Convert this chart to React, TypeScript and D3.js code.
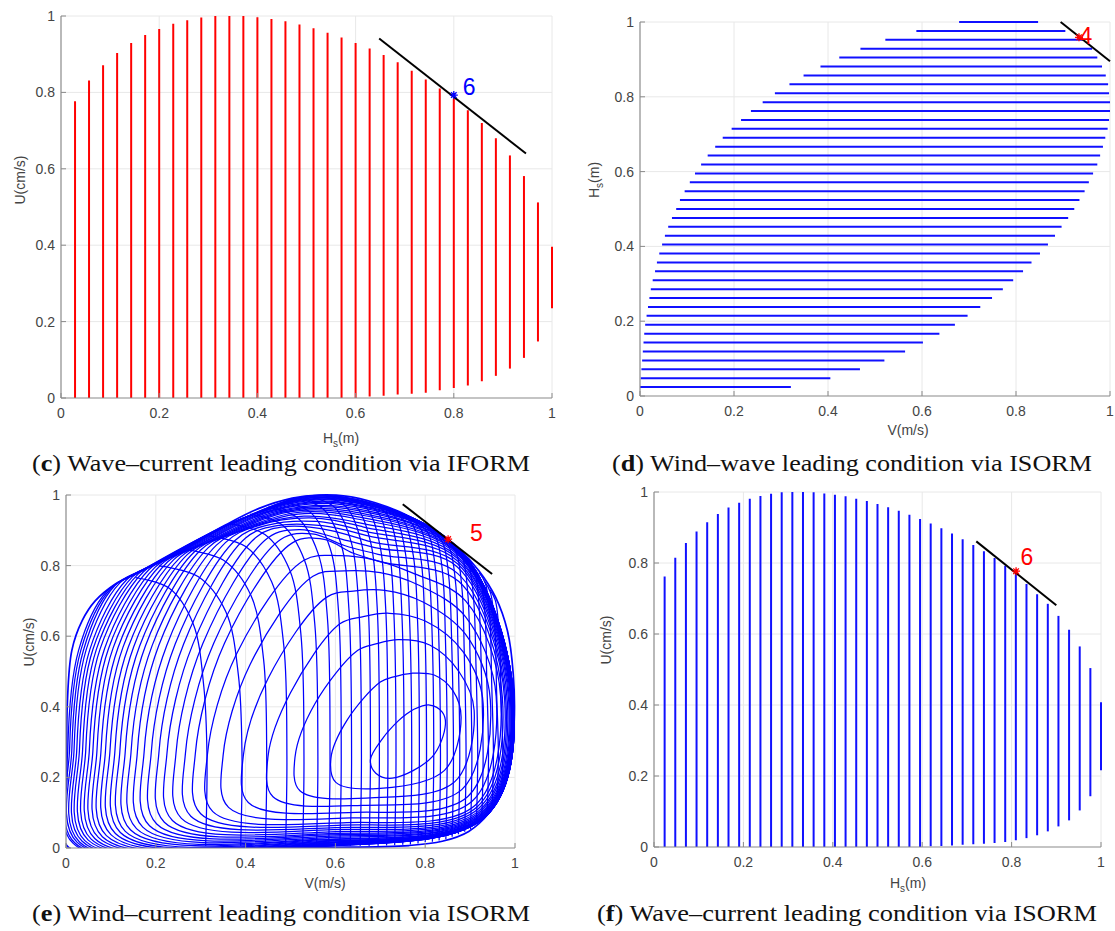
import React from "react";
import * as d3 from "d3";

type Box = { l: number; r: number; t: number; b: number };
type Pt = [number, number];

const W = 1115;
const H = 931;

const tickValues = [0, 0.2, 0.4, 0.6, 0.8, 1];
const tickLabels = ["0", "0.2", "0.4", "0.6", "0.8", "1"];

// ---------- (c) wave-current, IFORM: vertical red segments ----------
const cHs = [0.0286, 0.0571, 0.0857, 0.1143, 0.1429, 0.1714, 0.2, 0.2286, 0.2571, 0.2857, 0.3143, 0.3429, 0.3714, 0.4, 0.4286, 0.4571, 0.4857, 0.5143, 0.5429, 0.5714, 0.6, 0.6286, 0.6571, 0.6857, 0.7143, 0.7429, 0.7714, 0.8, 0.8286, 0.8571, 0.8857, 0.9143, 0.9429, 0.9714, 1.0];
const cUTop = [0.777, 0.831, 0.871, 0.903, 0.929, 0.95, 0.966, 0.98, 0.989, 0.996, 1.0, 1.0, 1.0, 0.997, 0.992, 0.986, 0.978, 0.968, 0.956, 0.944, 0.929, 0.915, 0.898, 0.879, 0.857, 0.834, 0.81, 0.784, 0.753, 0.72, 0.68, 0.635, 0.581, 0.512, 0.396];
const cUBottom = [0, 0, 0, 0, 0, 0, 0, 0, 0, 0, 0, 0, 0, 0, 0, 0, 0, 0, 0, 0, 0, 0.004, 0.006, 0.009, 0.011, 0.014, 0.02, 0.026, 0.033, 0.044, 0.058, 0.077, 0.105, 0.148, 0.235];
const cTangent: Pt[] = [[0.648, 0.941], [0.947, 0.64]];
const cPoint: Pt = [0.8, 0.793];
const cPointLabel = "6";

// ---------- (d) wind-wave, ISORM: horizontal blue segments ----------
const dHs = [0.0238, 0.0476, 0.0714, 0.0952, 0.119, 0.1429, 0.1667, 0.1905, 0.2143, 0.2381, 0.2619, 0.2857, 0.3095, 0.3333, 0.3571, 0.381, 0.4048, 0.4286, 0.4524, 0.4762, 0.5, 0.5238, 0.5476, 0.5714, 0.5952, 0.619, 0.6429, 0.6667, 0.6905, 0.7143, 0.7381, 0.7619, 0.7857, 0.8095, 0.8333, 0.8571, 0.881, 0.9048, 0.9286, 0.9524, 0.9762, 1.0];
const dVStart = [0.0, 0.0015, 0.003, 0.0045, 0.006, 0.0075, 0.009, 0.011, 0.014, 0.017, 0.02, 0.023, 0.027, 0.032, 0.036, 0.041, 0.047, 0.053, 0.06, 0.068, 0.077, 0.085, 0.095, 0.106, 0.117, 0.13, 0.144, 0.16, 0.176, 0.195, 0.215, 0.236, 0.261, 0.287, 0.318, 0.348, 0.384, 0.424, 0.469, 0.522, 0.588, 0.679];
const dVEnd = [0.321, 0.405, 0.468, 0.52, 0.564, 0.602, 0.637, 0.67, 0.697, 0.724, 0.749, 0.772, 0.794, 0.815, 0.833, 0.851, 0.868, 0.883, 0.897, 0.911, 0.924, 0.935, 0.946, 0.955, 0.964, 0.973, 0.979, 0.985, 0.99, 0.995, 0.998, 1.0, 1.0, 0.998, 0.996, 0.991, 0.983, 0.973, 0.962, 0.943, 0.905, 0.847];
const dTangent: Pt[] = [[0.895, 1.0], [1.0, 0.895]];
const dPoint: Pt = [0.934, 0.959];
const dPointLabel = "4";

// ---------- (e) wind-current, ISORM: contour mesh ----------
const eHull: Pt[] = [[0.004, 0.004], [0.002, 0.2], [0.003, 0.41], [0.013, 0.56], [0.036, 0.644], [0.065, 0.7], [0.11, 0.748], [0.155, 0.777], [0.207, 0.812], [0.281, 0.863], [0.355, 0.915], [0.43, 0.962], [0.504, 0.991], [0.563, 1.0], [0.623, 0.997], [0.689, 0.978], [0.756, 0.945], [0.816, 0.903], [0.875, 0.847], [0.92, 0.785], [0.957, 0.71], [0.983, 0.616], [0.996, 0.494], [0.998, 0.353], [0.99, 0.259], [0.972, 0.165], [0.942, 0.099], [0.897, 0.047], [0.838, 0.019], [0.764, 0.007], [0.578, 0.002], [0.3, 0.001]];

// each loop: bottom-left, left, upper-left, dome contact, dome (x2), top, upper-right, right, lower-right, bottom
const eLoops: Pt[][] = [
  [[0.016, 0.013], [0.004, 0.28], [0.028, 0.56], [0.09, 0.726], [0.16, 0.78], [0.367, 0.918], [0.573, 0.999], [0.875, 0.847], [0.997, 0.42], [0.935, 0.09], [0.55, 0.003]],
  [[0.02, 0.014], [0.008, 0.28], [0.033, 0.56], [0.1, 0.735], [0.17, 0.785], [0.373, 0.923], [0.576, 0.999], [0.875, 0.847], [0.997, 0.42], [0.935, 0.09], [0.55, 0.003]],
  [[0.025, 0.016], [0.013, 0.28], [0.039, 0.561], [0.11, 0.745], [0.18, 0.792], [0.38, 0.926], [0.58, 0.998], [0.875, 0.847], [0.997, 0.42], [0.935, 0.09], [0.551, 0.004]],
  [[0.03, 0.017], [0.018, 0.28], [0.045, 0.562], [0.12, 0.751], [0.19, 0.798], [0.388, 0.931], [0.586, 0.996], [0.875, 0.847], [0.997, 0.42], [0.935, 0.09], [0.551, 0.004]],
  [[0.036, 0.019], [0.024, 0.279], [0.053, 0.562], [0.135, 0.76], [0.205, 0.807], [0.398, 0.936], [0.59, 0.994], [0.875, 0.847], [0.997, 0.42], [0.935, 0.09], [0.552, 0.005]],
  [[0.042, 0.021], [0.03, 0.279], [0.06, 0.563], [0.148, 0.768], [0.218, 0.815], [0.406, 0.94], [0.593, 0.992], [0.875, 0.847], [0.997, 0.42], [0.935, 0.09], [0.552, 0.006]],
  [[0.049, 0.023], [0.037, 0.279], [0.068, 0.564], [0.16, 0.775], [0.23, 0.822], [0.414, 0.944], [0.597, 0.99], [0.875, 0.846], [0.997, 0.42], [0.935, 0.09], [0.553, 0.006]],
  [[0.056, 0.025], [0.044, 0.278], [0.076, 0.564], [0.172, 0.782], [0.242, 0.829], [0.422, 0.948], [0.601, 0.987], [0.875, 0.846], [0.997, 0.42], [0.935, 0.09], [0.554, 0.007]],
  [[0.064, 0.027], [0.052, 0.278], [0.086, 0.565], [0.185, 0.789], [0.255, 0.836], [0.43, 0.949], [0.604, 0.985], [0.875, 0.846], [0.997, 0.42], [0.935, 0.091], [0.555, 0.008]],
  [[0.072, 0.03], [0.06, 0.278], [0.095, 0.566], [0.198, 0.795], [0.268, 0.843], [0.439, 0.95], [0.61, 0.98], [0.875, 0.845], [0.996, 0.42], [0.935, 0.091], [0.556, 0.009]],
  [[0.081, 0.032], [0.069, 0.277], [0.105, 0.567], [0.212, 0.803], [0.282, 0.85], [0.448, 0.952], [0.613, 0.977], [0.875, 0.844], [0.996, 0.42], [0.934, 0.091], [0.557, 0.011]],
  [[0.09, 0.035], [0.078, 0.277], [0.116, 0.568], [0.226, 0.81], [0.296, 0.858], [0.457, 0.953], [0.618, 0.972], [0.875, 0.844], [0.996, 0.419], [0.934, 0.091], [0.558, 0.012]],
  [[0.1, 0.038], [0.088, 0.277], [0.127, 0.569], [0.24, 0.817], [0.31, 0.864], [0.467, 0.953], [0.624, 0.966], [0.875, 0.842], [0.995, 0.419], [0.934, 0.092], [0.56, 0.014]],
  [[0.11, 0.041], [0.098, 0.276], [0.139, 0.57], [0.255, 0.824], [0.325, 0.871], [0.477, 0.953], [0.628, 0.961], [0.875, 0.841], [0.995, 0.419], [0.933, 0.092], [0.562, 0.016]],
  [[0.121, 0.044], [0.109, 0.276], [0.151, 0.571], [0.27, 0.831], [0.34, 0.878], [0.487, 0.953], [0.633, 0.954], [0.874, 0.839], [0.994, 0.419], [0.933, 0.093], [0.564, 0.018]],
  [[0.132, 0.047], [0.12, 0.275], [0.164, 0.572], [0.285, 0.838], [0.355, 0.885], [0.496, 0.952], [0.637, 0.948], [0.874, 0.838], [0.994, 0.419], [0.933, 0.093], [0.565, 0.02]],
  [[0.144, 0.051], [0.132, 0.274], [0.177, 0.573], [0.3, 0.844], [0.37, 0.891], [0.506, 0.949], [0.642, 0.94], [0.874, 0.835], [0.993, 0.418], [0.932, 0.094], [0.568, 0.023]],
  [[0.157, 0.055], [0.145, 0.274], [0.192, 0.574], [0.317, 0.851], [0.387, 0.898], [0.517, 0.946], [0.648, 0.932], [0.874, 0.833], [0.992, 0.418], [0.931, 0.095], [0.57, 0.025]],
  [[0.171, 0.059], [0.159, 0.273], [0.207, 0.575], [0.335, 0.858], [0.405, 0.905], [0.53, 0.94], [0.654, 0.921], [0.874, 0.829], [0.991, 0.417], [0.93, 0.097], [0.573, 0.029]],
  [[0.186, 0.063], [0.174, 0.272], [0.225, 0.576], [0.355, 0.865], [0.425, 0.912], [0.543, 0.935], [0.661, 0.91], [0.873, 0.824], [0.99, 0.417], [0.929, 0.098], [0.577, 0.033]],
  [[0.202, 0.068], [0.19, 0.272], [0.243, 0.577], [0.377, 0.872], [0.447, 0.914], [0.557, 0.925], [0.667, 0.897], [0.873, 0.819], [0.988, 0.416], [0.928, 0.1], [0.581, 0.037]],
  [[0.219, 0.073], [0.207, 0.271], [0.262, 0.578], [0.4, 0.878], [0.47, 0.913], [0.571, 0.913], [0.673, 0.884], [0.872, 0.813], [0.986, 0.415], [0.926, 0.102], [0.585, 0.041]],
  [[0.237, 0.078], [0.225, 0.27], [0.283, 0.579], [0.425, 0.882], [0.495, 0.911], [0.588, 0.9], [0.681, 0.867], [0.872, 0.805], [0.983, 0.414], [0.924, 0.105], [0.589, 0.046]],
  [[0.257, 0.084], [0.245, 0.269], [0.305, 0.58], [0.45, 0.879], [0.52, 0.902], [0.604, 0.878], [0.688, 0.851], [0.871, 0.797], [0.98, 0.412], [0.922, 0.108], [0.594, 0.052]],
  [[0.278, 0.09], [0.266, 0.268], [0.329, 0.58], [0.478, 0.874], [0.548, 0.89], [0.62, 0.857], [0.695, 0.832], [0.872, 0.778], [0.977, 0.42], [0.919, 0.112], [0.6, 0.058]],
  [[0.3, 0.097], [0.288, 0.267], [0.353, 0.58], [0.505, 0.865], [0.575, 0.874], [0.64, 0.835], [0.704, 0.81], [0.875, 0.755], [0.972, 0.425], [0.916, 0.117], [0.615, 0.065]],
  [[0.327, 0.103], [0.315, 0.265], [0.38, 0.55], [0.53, 0.815], [0.61, 0.828], [0.69, 0.815], [0.77, 0.78], [0.89, 0.7], [0.968, 0.43], [0.912, 0.122], [0.625, 0.072]],
  [[0.362, 0.115], [0.35, 0.263], [0.41, 0.52], [0.55, 0.77], [0.62, 0.785], [0.7, 0.78], [0.785, 0.745], [0.89, 0.655], [0.958, 0.43], [0.905, 0.133], [0.635, 0.085]],
  [[0.406, 0.129], [0.395, 0.262], [0.45, 0.48], [0.58, 0.71], [0.64, 0.728], [0.71, 0.73], [0.795, 0.697], [0.89, 0.605], [0.945, 0.42], [0.895, 0.146], [0.645, 0.101]],
  [[0.461, 0.145], [0.45, 0.26], [0.5, 0.44], [0.61, 0.635], [0.66, 0.655], [0.72, 0.665], [0.8, 0.643], [0.885, 0.555], [0.929, 0.41], [0.882, 0.166], [0.66, 0.121]],
  [[0.521, 0.162], [0.51, 0.257], [0.555, 0.41], [0.65, 0.56], [0.69, 0.578], [0.74, 0.59], [0.81, 0.575], [0.875, 0.5], [0.909, 0.39], [0.866, 0.188], [0.678, 0.142]],
  [[0.601, 0.186], [0.59, 0.254], [0.625, 0.36], [0.7, 0.47], [0.73, 0.485], [0.77, 0.495], [0.82, 0.49], [0.862, 0.445], [0.88, 0.37], [0.843, 0.22], [0.7, 0.169]],
  [[0.69, 0.212], [0.678, 0.25], [0.705, 0.31], [0.74, 0.36], [0.757, 0.378], [0.775, 0.393], [0.81, 0.405], [0.838, 0.385], [0.845, 0.35], [0.816, 0.259], [0.727, 0.198]],
];

const eMeridians: Pt[][] = [
  [[0.155, 0.766], [0.23, 0.736], [0.283, 0.636], [0.307, 0.456], [0.314, 0.26], [0.311, 0.006]],
  [[0.207, 0.799], [0.294, 0.769], [0.356, 0.669], [0.384, 0.489], [0.392, 0.26], [0.389, 0.006]],
  [[0.266, 0.845], [0.351, 0.815], [0.412, 0.715], [0.44, 0.535], [0.447, 0.26], [0.444, 0.006]],
  [[0.318, 0.884], [0.4, 0.854], [0.458, 0.754], [0.485, 0.574], [0.492, 0.26], [0.489, 0.006]],
  [[0.365, 0.918], [0.443, 0.888], [0.498, 0.788], [0.523, 0.608], [0.53, 0.26], [0.527, 0.006]],
  [[0.41, 0.946], [0.481, 0.916], [0.531, 0.816], [0.554, 0.636], [0.561, 0.26], [0.558, 0.006]],
  [[0.45, 0.966], [0.515, 0.936], [0.561, 0.836], [0.582, 0.656], [0.588, 0.26], [0.585, 0.006]],
  [[0.485, 0.98], [0.545, 0.95], [0.588, 0.85], [0.607, 0.67], [0.613, 0.26], [0.61, 0.006]],
  [[0.52, 0.989], [0.574, 0.959], [0.613, 0.859], [0.63, 0.679], [0.636, 0.26], [0.633, 0.006]],
  [[0.55, 0.993], [0.6, 0.963], [0.636, 0.863], [0.652, 0.683], [0.658, 0.26], [0.655, 0.006]],
  [[0.58, 0.994], [0.626, 0.964], [0.658, 0.864], [0.673, 0.684], [0.678, 0.26], [0.675, 0.006]],
  [[0.607, 0.993], [0.649, 0.963], [0.679, 0.863], [0.693, 0.683], [0.698, 0.26], [0.695, 0.006]],
  [[0.633, 0.989], [0.672, 0.959], [0.699, 0.859], [0.712, 0.679], [0.717, 0.26], [0.714, 0.007]],
  [[0.658, 0.982], [0.694, 0.952], [0.719, 0.852], [0.73, 0.672], [0.735, 0.26], [0.732, 0.008]],
  [[0.682, 0.975], [0.715, 0.945], [0.738, 0.845], [0.748, 0.665], [0.753, 0.26], [0.75, 0.009]],
  [[0.705, 0.965], [0.735, 0.935], [0.756, 0.835], [0.765, 0.655], [0.77, 0.26], [0.767, 0.01]],
  [[0.727, 0.954], [0.754, 0.924], [0.774, 0.824], [0.783, 0.644], [0.787, 0.26], [0.784, 0.013]],
  [[0.748, 0.944], [0.773, 0.914], [0.791, 0.814], [0.799, 0.634], [0.803, 0.26], [0.8, 0.016]],
  [[0.768, 0.932], [0.791, 0.902], [0.807, 0.802], [0.815, 0.622], [0.819, 0.26], [0.816, 0.018]],
  [[0.787, 0.918], [0.808, 0.888], [0.823, 0.788], [0.83, 0.608], [0.834, 0.26], [0.831, 0.021]],
  [[0.805, 0.906], [0.825, 0.876], [0.839, 0.776], [0.845, 0.596], [0.849, 0.26], [0.846, 0.025]],
  [[0.822, 0.892], [0.84, 0.862], [0.853, 0.762], [0.859, 0.582], [0.863, 0.26], [0.86, 0.032]],
  [[0.838, 0.877], [0.855, 0.847], [0.868, 0.747], [0.873, 0.567], [0.877, 0.26], [0.874, 0.039]],
  [[0.853, 0.863], [0.87, 0.833], [0.882, 0.733], [0.887, 0.553], [0.891, 0.26], [0.888, 0.046]],
  [[0.868, 0.849], [0.884, 0.819], [0.895, 0.719], [0.9, 0.539], [0.904, 0.26], [0.901, 0.053]],
  [[0.882, 0.832], [0.897, 0.802], [0.908, 0.702], [0.913, 0.522], [0.917, 0.26], [0.914, 0.07]],
  [[0.895, 0.815], [0.91, 0.785], [0.92, 0.685], [0.925, 0.505], [0.929, 0.26], [0.926, 0.084]],
  [[0.908, 0.795], [0.922, 0.765], [0.933, 0.665], [0.937, 0.485], [0.941, 0.26], [0.938, 0.098]],
  [[0.92, 0.78], [0.934, 0.75], [0.944, 0.65], [0.948, 0.47], [0.952, 0.26], [0.949, 0.117]],
  [[0.932, 0.755], [0.945, 0.725], [0.955, 0.625], [0.959, 0.445], [0.963, 0.26], [0.96, 0.141]],
  [[0.944, 0.732], [0.956, 0.702], [0.965, 0.602], [0.969, 0.422], [0.973, 0.26], [0.97, 0.163]],
];
const eTangent: Pt[] = [[0.75, 0.974], [0.949, 0.776]];
const ePoint: Pt = [0.851, 0.875];
const ePointLabel = "5";

// ---------- (f) wave-current, ISORM: vertical blue segments ----------
const fHs = [0.0238, 0.0476, 0.0714, 0.0952, 0.119, 0.1429, 0.1667, 0.1905, 0.2143, 0.2381, 0.2619, 0.2857, 0.3095, 0.3333, 0.3571, 0.381, 0.4048, 0.4286, 0.4524, 0.4762, 0.5, 0.5238, 0.5476, 0.5714, 0.5952, 0.619, 0.6429, 0.6667, 0.6905, 0.7143, 0.7381, 0.7619, 0.7857, 0.8095, 0.8333, 0.8571, 0.881, 0.9048, 0.9286, 0.9524, 0.9762, 1.0];
const fUTop = [0.762, 0.815, 0.856, 0.889, 0.915, 0.938, 0.956, 0.97, 0.981, 0.989, 0.995, 0.999, 1.0, 1.0, 0.999, 0.996, 0.992, 0.988, 0.981, 0.975, 0.966, 0.957, 0.947, 0.936, 0.924, 0.911, 0.898, 0.883, 0.867, 0.851, 0.833, 0.814, 0.792, 0.769, 0.741, 0.712, 0.685, 0.651, 0.612, 0.565, 0.504, 0.408];
const fUBottom = [0, 0, 0, 0, 0, 0, 0, 0, 0, 0, 0, 0, 0, 0, 0, 0, 0, 0, 0, 0, 0, 0, 0, 0, 0, 0.002, 0.003, 0.004, 0.006, 0.008, 0.009, 0.011, 0.014, 0.019, 0.025, 0.033, 0.044, 0.058, 0.075, 0.103, 0.143, 0.216];
const fTangent: Pt[] = [[0.721, 0.861], [0.9, 0.681]];
const fPoint: Pt = [0.81, 0.777];
const fPointLabel = "6";

const captions = [
  { letter: "c", text: " Wave–current leading condition via IFORM" },
  { letter: "d", text: " Wind–wave leading condition via ISORM" },
  { letter: "e", text: " Wind–current leading condition via ISORM" },
  { letter: "f", text: " Wave–current leading condition via ISORM" },
];

// ---------- layout ----------
const boxC: Box = { l: 61, r: 552, t: 16, b: 398 };
const boxD: Box = { l: 640, r: 1110, t: 22, b: 396 };
const boxE: Box = { l: 66, r: 515, t: 495, b: 848 };
const boxF: Box = { l: 654, r: 1101, t: 492, b: 847 };

const SANS = "'Liberation Sans', Arial, Helvetica, sans-serif";
const SERIF = "'Liberation Serif', 'DejaVu Serif', serif";
const TICK_COLOR = "#444";

type Lab = { main: string; sub?: string; rest: string };

function scales(box: Box) {
  const x = d3.scaleLinear().domain([0, 1]).range([box.l, box.r]);
  const y = d3.scaleLinear().domain([0, 1]).range([box.b, box.t]);
  return { x, y };
}

function AxisLabel({ main, sub, rest }: Lab) {
  return (
    <>
      {main}
      {sub ? (
        <>
          <tspan dy={4} fontSize={10}>{sub}</tspan>
          <tspan dy={-4}>{rest}</tspan>
        </>
      ) : (
        rest
      )}
    </>
  );
}

function Grid({ box }: { box: Box }) {
  const { x, y } = scales(box);
  return (
    <g>
      {tickValues.filter((v) => v > 0).map((v) => (
        <line key={"gx" + v} x1={x(v)} x2={x(v)} y1={box.t} y2={box.b} stroke="#e8e8e8" strokeWidth={1} />
      ))}
      {tickValues.filter((v) => v > 0).map((v) => (
        <line key={"gy" + v} x1={box.l} x2={box.r} y1={y(v)} y2={y(v)} stroke="#e8e8e8" strokeWidth={1} />
      ))}
    </g>
  );
}

function AxesOverlay({ box, xLab, yLab, xLabPos, yLabPos }: { box: Box; xLab: Lab; yLab: Lab; xLabPos: [number, number]; yLabPos: [number, number] }) {
  const { x, y } = scales(box);
  return (
    <g fontFamily={SANS}>
      <line x1={box.l} x2={box.l} y1={box.t} y2={box.b} stroke="#8a8a8a" strokeWidth={1.2} />
      <line x1={box.l} x2={box.r} y1={box.b} y2={box.b} stroke="#8a8a8a" strokeWidth={1.2} />
      {tickValues.map((v, i) => (
        <g key={"t" + v}>
          <line x1={box.l} x2={box.l + 5} y1={y(v)} y2={y(v)} stroke="#8a8a8a" strokeWidth={1} />
          <line x1={x(v)} x2={x(v)} y1={box.b} y2={box.b - 5} stroke="#8a8a8a" strokeWidth={1} />
          <text x={box.l - 6} y={y(v)} dy="0.35em" textAnchor="end" fontSize={14} fill={TICK_COLOR}>
            {tickLabels[i]}
          </text>
          <text x={x(v)} y={box.b + 20} textAnchor="middle" fontSize={14} fill={TICK_COLOR}>
            {tickLabels[i]}
          </text>
        </g>
      ))}
      <text x={xLabPos[0]} y={xLabPos[1]} textAnchor="middle" fontSize={14} fill={TICK_COLOR}>
        <AxisLabel {...xLab} />
      </text>
      <text transform={`translate(${yLabPos[0]},${yLabPos[1]}) rotate(-90)`} textAnchor="middle" dy="0.35em" fontSize={14} fill={TICK_COLOR}>
        <AxisLabel {...yLab} />
      </text>
    </g>
  );
}

function Star({ cx, cy, color }: { cx: number; cy: number; color: string }) {
  const r = 4;
  const d = r * 0.7;
  return (
    <path
      d={`M${cx - r},${cy}H${cx + r}M${cx},${cy - r}V${cy + r}M${cx - d},${cy - d}L${cx + d},${cy + d}M${cx - d},${cy + d}L${cx + d},${cy - d}`}
      stroke={color}
      strokeWidth={1.3}
      fill="none"
    />
  );
}

function Marker({ box, tangent, point, label, color, labelPos }: { box: Box; tangent: Pt[]; point: Pt; label: string; color: string; labelPos: Pt }) {
  const { x, y } = scales(box);
  return (
    <g>
      <line x1={x(tangent[0][0])} y1={y(tangent[0][1])} x2={x(tangent[1][0])} y2={y(tangent[1][1])} stroke="#000" strokeWidth={2} />
      <Star cx={x(point[0])} cy={y(point[1])} color={color} />
      <text x={x(labelPos[0])} y={y(labelPos[1])} fontFamily={SANS} fontSize={23} fill={color}>
        {label}
      </text>
    </g>
  );
}

const labHs: Lab = { main: "H", sub: "s", rest: "(m)" };
const labU: Lab = { main: "U(cm/s)", rest: "" };
const labV: Lab = { main: "V(m/s)", rest: "" };

function PanelC() {
  const { x, y } = scales(boxC);
  return (
    <g>
      <Grid box={boxC} />
      {cHs.map((h, i) => (
        <line key={i} x1={x(h)} x2={x(h)} y1={y(cUBottom[i])} y2={y(cUTop[i])} stroke="#ff0000" strokeWidth={2} />
      ))}
      <AxesOverlay box={boxC} xLab={labHs} yLab={labU} xLabPos={[341, 443]} yLabPos={[20, 180]} />
      <Marker box={boxC} tangent={cTangent} point={cPoint} label={cPointLabel} color="#0000ff" labelPos={[0.818, 0.793]} />
    </g>
  );
}

function PanelD() {
  const { x, y } = scales(boxD);
  return (
    <g>
      <Grid box={boxD} />
      {dHs.map((h, i) => (
        <line key={i} x1={x(dVStart[i])} x2={x(dVEnd[i])} y1={y(h)} y2={y(h)} stroke="#1010ff" strokeWidth={2} />
      ))}
      <AxesOverlay box={boxD} xLab={labV} yLab={labHs} xLabPos={[908, 435]} yLabPos={[594, 180]} />
      <Marker box={boxD} tangent={dTangent} point={dPoint} label={dPointLabel} color="#ff0000" labelPos={[0.935, 0.94]} />
    </g>
  );
}

function PanelE() {
  const { x, y } = scales(boxE);
  const closed = d3.line<Pt>().x((p) => x(p[0])).y((p) => y(p[1])).curve(d3.curveCatmullRomClosed.alpha(0.5));
  const open = d3.line<Pt>().x((p) => x(p[0])).y((p) => y(p[1])).curve(d3.curveCatmullRom.alpha(0.5));
  return (
    <g>
      <defs>
        <clipPath id="clipE">
          <rect x={boxE.l} y={boxE.t - 2} width={boxE.r - boxE.l + 2} height={boxE.b - boxE.t + 2} />
        </clipPath>
      </defs>
      <Grid box={boxE} />
      <g clipPath="url(#clipE)" fill="none" stroke="#0000ff" strokeWidth={1.25}>
        <path d={closed(eHull) || ""} strokeWidth={1.7} />
        {eLoops.map((lp, i) => (
          <path key={"l" + i} d={closed(lp) || ""} />
        ))}
        {eMeridians.map((m, i) => (
          <path key={"m" + i} d={open(m) || ""} />
        ))}
      </g>
      <AxesOverlay box={boxE} xLab={labV} yLab={labU} xLabPos={[325, 888]} yLabPos={[29, 642]} />
      <Marker box={boxE} tangent={eTangent} point={ePoint} label={ePointLabel} color="#ff0000" labelPos={[0.9, 0.87]} />
    </g>
  );
}

function PanelF() {
  const { x, y } = scales(boxF);
  return (
    <g>
      <Grid box={boxF} />
      {fHs.map((h, i) => (
        <line key={i} x1={x(h)} x2={x(h)} y1={y(fUBottom[i])} y2={y(fUTop[i])} stroke="#1010ff" strokeWidth={2} />
      ))}
      <AxesOverlay box={boxF} xLab={labHs} yLab={labU} xLabPos={[908, 888]} yLabPos={[606, 640]} />
      <Marker box={boxF} tangent={fTangent} point={fPoint} label={fPointLabel} color="#ff0000" labelPos={[0.82, 0.794]} />
    </g>
  );
}

const captionLayout = [
  { x: 32, y: 471, w: 498 },
  { x: 612, y: 471, w: 480 },
  { x: 32, y: 921, w: 498 },
  { x: 597, y: 921, w: 500 },
];

export default function App() {
  return (
    <div style={{ position: "absolute", left: 0, top: 0, width: W, height: H, background: "#fff" }}>
      <svg width={W} height={H} viewBox={`0 0 ${W} ${H}`} xmlns="http://www.w3.org/2000/svg">
        <rect width={W} height={H} fill="#fff" />
        <PanelC />
        <PanelD />
        <PanelE />
        <PanelF />
        {captions.map((c, i) => (
          <text
            key={c.letter}
            x={captionLayout[i].x}
            y={captionLayout[i].y}
            fontFamily={SERIF}
            fontSize={23}
            fill="#111"
            textLength={captionLayout[i].w}
            lengthAdjust="spacingAndGlyphs"
          >
            (<tspan fontWeight="bold">{c.letter}</tspan>){c.text}
          </text>
        ))}
      </svg>
    </div>
  );
}
